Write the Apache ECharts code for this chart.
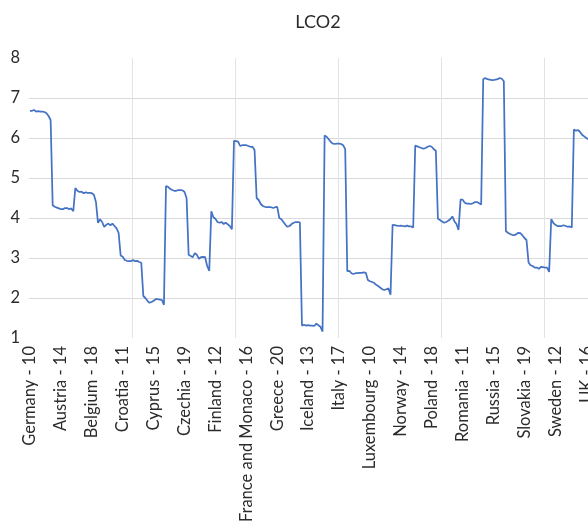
<!DOCTYPE html>
<html>
<head>
<meta charset="utf-8">
<script src="https://cdn.jsdelivr.net/npm/echarts@6/dist/echarts.min.js"></script>
<style>
html,body{margin:0;padding:0;background:#fff;}
#chart{width:588px;height:528px;}
</style>
</head>
<body>
<div id="chart"></div>
<script>
// Countries in plotted order (each has hours 10..20)
const countries = ["Germany","Austria","Belgium","Bulgaria","Croatia","Cyprus","Czechia","Denmark","Finland","France and Monaco","Greece","Hungary","Iceland","Italy","Latvia","Luxembourg","Norway","Poland","Portugal","Romania","Russia","Slovakia","Spain","Sweden","UK"];
const hours = [10,11,12,13,14,15,16,17,18,19,20];

const germany   = [6.68,6.68,6.70,6.66,6.67,6.66,6.66,6.65,6.62,6.55,6.45];
const austria   = [4.32,4.28,4.26,4.24,4.22,4.22,4.25,4.25,4.22,4.24,4.17];
const belgium   = [4.75,4.68,4.65,4.66,4.62,4.64,4.63,4.63,4.62,4.58,4.40];
const bulgaria  = [3.88,3.97,3.90,3.78,3.83,3.86,3.82,3.86,3.80,3.74,3.63];
const croatia   = [3.06,3.03,2.95,2.93,2.92,2.92,2.95,2.92,2.93,2.90,2.88];
const cyprus    = [2.05,2.00,1.93,1.88,1.90,1.93,1.97,1.97,1.96,1.95,1.83];
const czechia   = [4.80,4.78,4.73,4.70,4.68,4.68,4.70,4.70,4.69,4.65,4.50];
const denmark   = [3.08,3.05,3.02,3.12,3.08,2.98,3.02,3.03,3.02,2.80,2.68];
const finland   = [4.17,4.02,3.98,3.90,3.88,3.90,3.85,3.88,3.84,3.80,3.72];
const france    = [5.93,5.92,5.91,5.80,5.82,5.82,5.82,5.80,5.78,5.78,5.70];
const greece    = [4.50,4.45,4.35,4.30,4.28,4.27,4.27,4.27,4.25,4.27,4.28];
const hungary   = [4.00,3.97,3.90,3.83,3.78,3.80,3.85,3.88,3.90,3.90,3.89];
const iceland   = [1.31,1.33,1.31,1.32,1.31,1.31,1.30,1.36,1.32,1.28,1.16];
const italy     = [6.06,6.03,5.97,5.90,5.86,5.85,5.86,5.86,5.85,5.82,5.72];
const latvia    = [2.67,2.68,2.62,2.60,2.62,2.62,2.63,2.63,2.64,2.63,2.45];
const luxembourg= [2.42,2.40,2.38,2.33,2.30,2.26,2.22,2.20,2.22,2.24,2.08];
const norway    = [3.83,3.82,3.81,3.80,3.81,3.80,3.79,3.81,3.79,3.79,3.76];
const poland    = [5.81,5.79,5.77,5.75,5.73,5.75,5.78,5.80,5.78,5.72,5.68];
const portugal  = [3.98,3.95,3.91,3.88,3.90,3.93,3.97,4.04,3.92,3.85,3.70];
const romania   = [4.46,4.46,4.38,4.36,4.36,4.35,4.37,4.40,4.40,4.37,4.34];
const russia    = [7.47,7.50,7.47,7.46,7.45,7.45,7.46,7.47,7.50,7.48,7.42];
const slovakia  = [3.67,3.63,3.60,3.58,3.57,3.59,3.63,3.62,3.57,3.50,3.45];
const spain     = [2.89,2.82,2.80,2.76,2.76,2.73,2.78,2.77,2.76,2.76,2.65];
const sweden    = [3.97,3.88,3.83,3.80,3.80,3.80,3.82,3.80,3.78,3.79,3.76];
const uk        = [6.21,6.18,6.20,6.15,6.08,6.04,6.00,5.97,5.95,5.93,5.90];

const yTicks = [1,2,3,4,5,6,7,8];

const valueLists = [germany,austria,belgium,bulgaria,croatia,cyprus,czechia,denmark,finland,france,greece,hungary,iceland,italy,latvia,luxembourg,norway,poland,portugal,romania,russia,slovakia,spain,sweden,uk];

const categories = [];
const values = [];
countries.forEach((c, ci) => {
  hours.forEach((h, hi) => {
    categories.push(c + ' - ' + h);
    values.push(valueLists[ci][hi]);
  });
});

const chart = echarts.init(document.getElementById('chart'), null, {renderer: 'canvas'});
const font = 'Lato';
const gridColors = yTicks.map((v, i) => (i === 0 || i === yTicks.length - 1) ? 'rgba(0,0,0,0)' : '#d9d9d9');

chart.setOption({
  animation: false,
  backgroundColor: '#ffffff',
  title: {
    text: 'LCO2',
    left: 313,
    textAlign: 'center',
    top: 8,
    textStyle: {fontFamily: font, fontSize: 18, fontWeight: 'normal', color: '#2b2b2b'}
  },
  grid: {left: 29, top: 58, height: 280, width: 566.5, containLabel: false, outerBoundsMode: 'none'},
  xAxis: {
    type: 'category',
    data: categories,
    boundaryGap: true,
    axisLine: {show: false},
    axisTick: {show: false},
    axisLabel: {
      interval: 14,
      rotate: 90,
      margin: 8,
      fontFamily: font,
      fontSize: 16.5,
      color: '#2b2b2b'
    },
    splitLine: {
      show: true,
      interval: function (idx) { return idx > 0 && idx % 50 === 0; },
      lineStyle: {color: '#e3e3e3', width: 1}
    }
  },
  yAxis: {
    type: 'value',
    min: 1,
    max: 8,
    interval: 1,
    axisLine: {show: false},
    axisTick: {show: false},
    axisLabel: {fontFamily: font, fontSize: 16.5, color: '#2b2b2b', margin: 9},
    splitLine: {show: true, lineStyle: {color: gridColors, width: 1}}
  },
  series: [{
    type: 'line',
    data: values,
    showSymbol: false,
    symbol: 'none',
    lineStyle: {color: '#4472C4', width: 1.75},
    itemStyle: {color: '#4472C4'}
  }]
});
</script>
</body>
</html>
